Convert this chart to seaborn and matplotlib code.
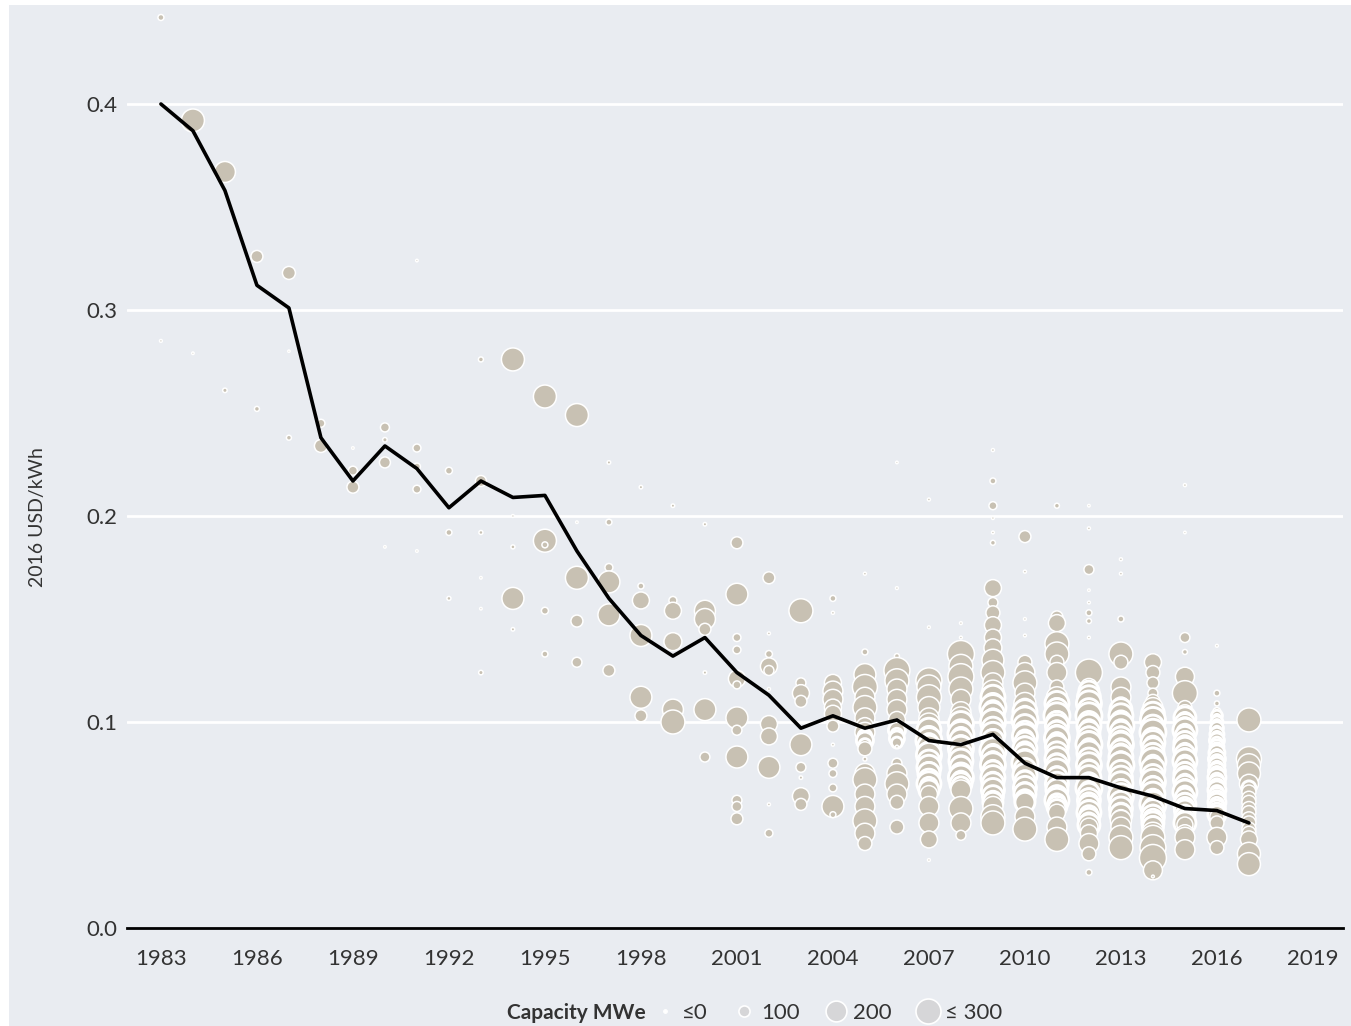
import numpy as np
import pandas as pd
import matplotlib.pyplot as plt
import seaborn as sns
from matplotlib.lines import Line2D
from matplotlib.patches import Rectangle

# Gaya dasar
sns.set_style('white')
plt.rcParams['font.family'] = ['Lato', 'DejaVu Sans']

# Rata-rata tertimbang (garis hitam), 2016 USD/kWh
years = list(range(1983, 2018))
avg_lcoe = [0.400, 0.387, 0.358, 0.312, 0.301, 0.238, 0.217, 0.234, 0.223, 0.204,
            0.217, 0.209, 0.210, 0.183, 0.160, 0.142, 0.132, 0.141, 0.124, 0.113,
            0.097, 0.103, 0.097, 0.101, 0.091, 0.089, 0.094, 0.080, 0.073, 0.073,
            0.068, 0.064, 0.058, 0.057, 0.051]

# Proyek per tahun: (LCOE, kapasitas MWe)
p1983 = [(0.442, 40), (0.285, 8)]
p1984 = [(0.392, 210), (0.279, 5)]
p1985 = [(0.367, 190), (0.261, 25)]
p1986 = [(0.326, 100), (0.252, 30)]
p1987 = [(0.318, 110), (0.280, 3), (0.238, 30)]
p1988 = [(0.245, 60), (0.234, 110)]
p1989 = [(0.233, 5), (0.222, 70), (0.214, 100)]
p1990 = [(0.243, 70), (0.237, 25), (0.226, 90), (0.185, 5)]
p1991 = [(0.324, 5), (0.233, 60), (0.224, 50), (0.213, 60), (0.183, 5)]
p1992 = [(0.222, 50), (0.192, 40), (0.160, 20)]
p1993 = [(0.276, 30), (0.217, 90), (0.192, 20), (0.170, 5), (0.155, 5), (0.124, 25)]
p1994 = [(0.276, 210), (0.200, 8), (0.185, 20), (0.160, 200), (0.145, 15)]
p1995 = [(0.258, 210), (0.188, 210), (0.186, 40), (0.154, 50), (0.133, 40)]
p1996 = [(0.249, 210), (0.197, 5), (0.170, 210), (0.149, 100), (0.129, 80)]
p1997 = [(0.226, 15), (0.197, 40), (0.175, 60), (0.168, 200), (0.152, 200), (0.125, 100)]
p1998 = [(0.214, 15), (0.166, 40), (0.159, 150), (0.142, 200), (0.112, 200), (0.103, 100)]
p1999 = [(0.205, 15), (0.159, 60), (0.154, 150), (0.139, 160), (0.106, 190), (0.100, 220)]
p2000 = [(0.196, 15), (0.154, 190), (0.150, 190), (0.145, 100), (0.124, 15), (0.106, 200),
         (0.083, 80)]
p2001 = [(0.187, 100), (0.162, 200), (0.141, 60), (0.135, 60), (0.121, 150), (0.118, 60),
         (0.102, 200), (0.096, 80), (0.083, 200), (0.062, 80), (0.059, 80), (0.053, 100)]
p2002 = [(0.170, 100), (0.143, 10), (0.133, 50), (0.127, 150), (0.125, 80), (0.116, 10),
         (0.099, 150), (0.093, 150), (0.078, 200), (0.060, 10), (0.046, 60)]
p2003 = [(0.154, 220), (0.119, 80), (0.114, 150), (0.110, 100), (0.089, 200), (0.078, 80),
         (0.073, 15), (0.064, 150), (0.060, 100)]
p2004 = [(0.160, 40), (0.153, 10), (0.119, 150), (0.115, 180), (0.111, 180), (0.107, 150),
         (0.104, 150), (0.098, 100), (0.089, 10), (0.080, 80), (0.075, 60), (0.068, 60),
         (0.059, 200), (0.055, 40)]
p2005 = [(0.172, 10), (0.134, 40), (0.123, 200), (0.117, 230), (0.112, 180), (0.107, 220),
         (0.102, 180), (0.098, 150), (0.095, 180), (0.093, 120), (0.091, 150), (0.089, 100),
         (0.087, 120), (0.082, 20), (0.075, 180), (0.072, 220), (0.065, 180),
         (0.059, 180), (0.052, 220), (0.046, 180), (0.041, 120)]
p2006 = [(0.226, 5), (0.165, 8), (0.132, 30), (0.125, 240), (0.120, 220), (0.116, 180),
         (0.111, 180), (0.106, 180), (0.101, 150), (0.098, 120), (0.096, 150), (0.094, 100),
         (0.092, 130), (0.090, 90), (0.088, 10), (0.080, 80),
         (0.075, 180), (0.070, 220), (0.065, 180), (0.061, 120), (0.049, 120)]
p2007 = [(0.208, 10), (0.146, 8), (0.120, 240), (0.117, 220), (0.112, 230), (0.107, 200),
         (0.102, 180),
         (0.099, 200), (0.097, 150), (0.096, 220), (0.094, 130), (0.093, 180), (0.091, 240),
         (0.090, 160), (0.088, 210), (0.087, 120), (0.085, 190), (0.084, 230), (0.082, 150),
         (0.081, 200), (0.079, 130), (0.078, 220), (0.076, 160), (0.075, 200), (0.073, 140),
         (0.072, 190), (0.070, 220), (0.069, 150), (0.067, 180),
         (0.065, 150), (0.059, 180), (0.051, 180), (0.043, 150), (0.033, 8)]
p2008 = [(0.148, 8), (0.141, 8), (0.133, 250), (0.127, 220), (0.122, 240), (0.116, 220),
         (0.111, 180), (0.105, 180),
         (0.102, 200), (0.100, 150), (0.099, 230), (0.097, 130), (0.096, 190), (0.094, 240),
         (0.093, 160), (0.091, 210), (0.090, 120), (0.088, 200), (0.087, 230), (0.085, 150),
         (0.084, 210), (0.082, 130), (0.081, 220), (0.079, 170), (0.078, 200), (0.076, 140),
         (0.075, 190), (0.073, 230), (0.072, 150), (0.070, 200), (0.069, 160),
         (0.067, 180), (0.058, 220), (0.051, 180), (0.045, 80)]
p2009 = [(0.232, 10), (0.217, 40), (0.205, 60), (0.199, 8), (0.192, 8), (0.187, 30),
         (0.165, 150), (0.158, 80), (0.153, 120), (0.147, 150), (0.141, 150), (0.136, 160),
         (0.130, 200), (0.124, 220), (0.119, 180),
         (0.115, 200), (0.113, 150), (0.112, 220), (0.110, 130), (0.109, 180), (0.107, 240),
         (0.106, 160), (0.104, 210), (0.103, 120), (0.101, 190), (0.100, 230), (0.098, 150),
         (0.097, 200), (0.095, 130), (0.094, 220), (0.092, 160), (0.091, 200), (0.089, 140),
         (0.088, 190), (0.086, 240), (0.085, 150), (0.083, 210), (0.082, 130), (0.080, 200),
         (0.079, 230), (0.077, 160), (0.076, 190), (0.074, 140), (0.073, 220), (0.071, 170),
         (0.070, 200), (0.068, 150), (0.067, 210), (0.065, 130), (0.064, 190), (0.062, 160),
         (0.061, 180),
         (0.059, 180), (0.054, 220), (0.051, 220)]
p2010 = [(0.190, 100), (0.173, 10), (0.150, 8), (0.142, 8), (0.129, 120), (0.124, 180),
         (0.119, 220), (0.114, 180), (0.109, 200),
         (0.107, 150), (0.105, 220), (0.104, 130), (0.102, 190), (0.101, 240), (0.099, 160),
         (0.098, 210), (0.096, 120), (0.095, 200), (0.093, 230), (0.092, 150), (0.090, 190),
         (0.089, 140), (0.087, 220), (0.086, 160), (0.084, 200), (0.083, 130), (0.081, 210),
         (0.080, 240), (0.078, 150), (0.077, 200), (0.075, 130), (0.074, 220), (0.072, 160),
         (0.071, 190), (0.069, 140), (0.068, 210), (0.066, 170), (0.065, 200), (0.063, 150),
         (0.062, 180),
         (0.061, 180), (0.054, 180), (0.048, 220)]
p2011 = [(0.205, 30), (0.151, 100), (0.148, 150), (0.138, 220), (0.133, 220), (0.129, 120),
         (0.124, 180), (0.117, 120),
         (0.112, 190), (0.110, 140), (0.109, 220), (0.107, 160), (0.106, 200), (0.104, 130),
         (0.103, 240), (0.101, 150), (0.100, 190), (0.098, 210), (0.097, 130), (0.095, 200),
         (0.094, 160), (0.092, 230), (0.091, 140), (0.089, 190), (0.088, 210), (0.086, 150),
         (0.085, 200), (0.083, 130), (0.082, 220), (0.080, 170), (0.079, 200), (0.077, 140),
         (0.076, 230), (0.074, 160), (0.073, 190), (0.071, 130), (0.070, 210), (0.068, 160),
         (0.067, 200), (0.065, 140), (0.064, 190), (0.062, 220), (0.061, 150), (0.059, 180),
         (0.058, 160),
         (0.056, 150), (0.049, 180), (0.043, 220)]
p2012 = [(0.205, 5), (0.194, 10), (0.174, 80), (0.164, 5), (0.158, 8), (0.153, 40),
         (0.149, 30), (0.141, 8), (0.124, 250), (0.117, 150),
         (0.115, 180), (0.113, 140), (0.112, 210), (0.110, 160), (0.109, 230), (0.107, 130),
         (0.106, 200), (0.104, 170), (0.103, 240), (0.101, 140), (0.100, 190), (0.098, 220),
         (0.097, 150), (0.095, 200), (0.094, 130), (0.092, 210), (0.091, 160), (0.089, 240),
         (0.088, 140), (0.086, 190), (0.085, 220), (0.083, 150), (0.082, 200), (0.080, 130),
         (0.079, 230), (0.077, 170), (0.076, 200), (0.074, 140), (0.073, 220), (0.071, 160),
         (0.070, 190), (0.068, 240), (0.067, 150), (0.065, 200), (0.064, 130), (0.062, 210),
         (0.061, 170), (0.059, 200), (0.058, 140), (0.056, 220), (0.055, 160), (0.053, 190),
         (0.052, 140), (0.050, 200), (0.049, 160),
         (0.046, 150), (0.041, 180), (0.036, 120), (0.027, 40)]
p2013 = [(0.179, 10), (0.172, 10), (0.150, 40), (0.133, 220), (0.129, 120), (0.117, 180),
         (0.112, 180), (0.108, 150),
         (0.106, 200), (0.104, 140), (0.103, 220), (0.101, 160), (0.100, 190), (0.098, 240),
         (0.097, 150), (0.095, 200), (0.094, 130), (0.092, 210), (0.091, 170), (0.089, 230),
         (0.088, 140), (0.086, 200), (0.085, 160), (0.083, 220), (0.082, 130), (0.080, 190),
         (0.079, 240), (0.077, 150), (0.076, 200), (0.074, 140), (0.073, 210), (0.071, 170),
         (0.070, 220), (0.068, 150), (0.067, 190), (0.065, 130), (0.064, 230), (0.062, 160),
         (0.061, 200), (0.059, 140), (0.058, 210), (0.056, 170), (0.055, 200), (0.053, 150),
         (0.052, 190),
         (0.049, 180), (0.044, 220), (0.039, 220)]
p2014 = [(0.129, 150), (0.124, 120), (0.119, 100), (0.114, 80), (0.110, 120),
         (0.107, 180), (0.105, 140), (0.104, 210), (0.102, 160), (0.101, 230), (0.099, 130),
         (0.098, 200), (0.096, 170), (0.095, 240), (0.093, 140), (0.092, 190), (0.090, 220),
         (0.089, 150), (0.087, 200), (0.086, 130), (0.084, 210), (0.083, 160), (0.081, 240),
         (0.080, 140), (0.078, 190), (0.077, 220), (0.075, 150), (0.074, 200), (0.072, 130),
         (0.071, 230), (0.069, 170), (0.068, 200), (0.066, 140), (0.065, 220), (0.063, 160),
         (0.062, 190), (0.060, 240), (0.059, 150), (0.057, 200), (0.056, 130), (0.054, 210),
         (0.053, 170), (0.051, 200), (0.050, 150), (0.049, 190),
         (0.046, 200), (0.044, 220), (0.039, 240), (0.034, 250), (0.028, 170), (0.025, 8)]
p2015 = [(0.215, 10), (0.192, 5), (0.141, 80), (0.134, 30), (0.122, 170), (0.114, 230),
         (0.107, 120),
         (0.104, 160), (0.102, 200), (0.101, 130), (0.099, 190), (0.098, 150), (0.096, 220),
         (0.095, 140), (0.093, 180), (0.092, 120), (0.090, 200), (0.089, 160), (0.087, 210),
         (0.086, 130), (0.084, 190), (0.083, 150), (0.081, 220), (0.080, 140), (0.078, 180),
         (0.077, 120), (0.075, 200), (0.074, 160), (0.072, 210), (0.071, 130), (0.069, 190),
         (0.068, 150), (0.066, 220), (0.065, 140), (0.063, 180), (0.062, 120), (0.060, 200),
         (0.059, 160), (0.057, 190), (0.056, 130), (0.054, 180), (0.053, 150), (0.051, 200),
         (0.050, 140),
         (0.046, 150), (0.044, 180), (0.038, 180)]
p2016 = [(0.137, 8), (0.114, 40), (0.109, 30),
         (0.105, 60), (0.103, 90), (0.102, 50), (0.100, 100), (0.099, 70), (0.097, 110),
         (0.096, 60), (0.094, 120), (0.093, 80), (0.091, 130), (0.090, 90), (0.088, 120),
         (0.087, 100), (0.085, 140), (0.084, 90), (0.082, 150), (0.081, 110), (0.079, 140),
         (0.078, 100), (0.076, 150), (0.075, 120), (0.073, 160), (0.072, 110), (0.070, 150),
         (0.069, 120), (0.067, 160), (0.066, 110), (0.064, 150), (0.063, 130), (0.061, 160),
         (0.060, 120), (0.058, 150), (0.057, 130), (0.055, 160), (0.054, 120),
         (0.051, 120), (0.044, 180), (0.039, 120)]
p2017 = [(0.101, 220), (0.082, 230), (0.079, 210), (0.075, 210), (0.070, 170), (0.068, 120),
         (0.066, 120), (0.063, 120), (0.061, 120), (0.058, 120), (0.056, 120), (0.053, 120),
         (0.051, 120), (0.048, 120), (0.046, 120), (0.043, 150), (0.036, 210), (0.031, 210)]

semua = [p1983, p1984, p1985, p1986, p1987, p1988, p1989, p1990, p1991, p1992, p1993,
         p1994, p1995, p1996, p1997, p1998, p1999, p2000, p2001, p2002, p2003, p2004,
         p2005, p2006, p2007, p2008, p2009, p2010, p2011, p2012, p2013, p2014, p2015,
         p2016, p2017]

# Susun ke DataFrame
rows = []
for th, proyek in zip(years, semua):
    for lcoe, mw in proyek:
        rows.append({'Year': th, 'LCOE': lcoe, 'MW': mw})
df = pd.DataFrame(rows)
# diameter marker (px) kira-kira linear terhadap kapasitas
df['s'] = ((2 + 0.1 * df['MW']) * 0.72) ** 2

# titik yang bertumpuk rapat diberi tepi putih lebih tebal
def tetangga(g):
    v = g['LCOE'].values
    return pd.Series([(np.abs(v - x) < 0.0022).sum() - 1 for x in v], index=g.index)

df['n'] = df.groupby('Year', group_keys=False).apply(tetangga)
df['lw'] = np.where(df['n'] >= 2, 2.1, 1.1)

avg = pd.DataFrame({'Year': years, 'LCOE': avg_lcoe})

bg = '#e9ecf1'
bubble = '#c8c1b3'

fig = plt.figure(figsize=(13.51, 10.26), dpi=100, facecolor='white')
fig.patches.append(Rectangle((9 / 1351, 0), 1, 1 - 5 / 1026, transform=fig.transFigure,
                             facecolor=bg, edgecolor='none', zorder=-10))
ax = fig.add_axes([127 / 1351, 1 - 928 / 1026, (1343 - 127) / 1351, (928 - 5) / 1026])
ax.set_facecolor(bg)

# Garis grid putih
for v in [0.1, 0.2, 0.3, 0.4]:
    ax.axhline(v, color='white', lw=2, zorder=0.5)

sns.scatterplot(data=df, x='Year', y='LCOE', s=df['s'], color=bubble, edgecolor='white',
                linewidth=df['lw'].values, alpha=1, ax=ax, zorder=2, legend=False)
sns.lineplot(data=avg, x='Year', y='LCOE', color='black', lw=2.6, ax=ax, zorder=3)

ax.set_xlim(1981.94, 2019.94)
ax.set_ylim(0, (928 - 5) / 2060)
ax.set_xticks(range(1983, 2020, 3))
ax.set_yticks([0.0, 0.1, 0.2, 0.3, 0.4])
ax.set_yticklabels(['0.0', '0.1', '0.2', '0.3', '0.4'])
ax.tick_params(axis='x', length=7, width=2, color='black', labelsize=16, pad=8,
               labelcolor='#333333')
ax.tick_params(axis='y', length=0, labelsize=16, pad=7, labelcolor='#333333')
for sp in ['top', 'right', 'left']:
    ax.spines[sp].set_visible(False)
ax.spines['bottom'].set_color('black')
ax.spines['bottom'].set_linewidth(2)
ax.set_xlabel('')
ax.set_ylabel('')

fig.text(37 / 1351, 1 - 517 / 1026, '2016 USD/kWh', rotation=90, ha='center', va='center',
         fontsize=14, color='#333333')

# Legenda kapasitas
fig.text(507 / 1351, 1 - 1013 / 1026, 'Capacity MWe', ha='left', va='center',
         fontsize=15, fontweight='bold', color='#333333')
leg_col = '#d6d6d8'
handles = [
    Line2D([], [], ls='', marker='o', markersize=2.5, markerfacecolor='white',
           markeredgecolor='white'),
    Line2D([], [], ls='', marker='o', markersize=8, markerfacecolor=leg_col,
           markeredgecolor='white', markeredgewidth=1.2),
    Line2D([], [], ls='', marker='o', markersize=15, markerfacecolor=leg_col,
           markeredgecolor='white', markeredgewidth=1.2),
    Line2D([], [], ls='', marker='o', markersize=18, markerfacecolor=leg_col,
           markeredgecolor='white', markeredgewidth=1.2),
]
labels = ['≤0', '100', '200', '≤ 300']
fig.legend(handles, labels, loc='center', bbox_to_anchor=(828 / 1351, 1 - 1013 / 1026),
           ncol=4, frameon=False, fontsize=16, handlelength=1.0, handletextpad=0.3,
           columnspacing=1.1, labelcolor='#333333')

plt.savefig('out.png', dpi=100, facecolor=fig.get_facecolor())
